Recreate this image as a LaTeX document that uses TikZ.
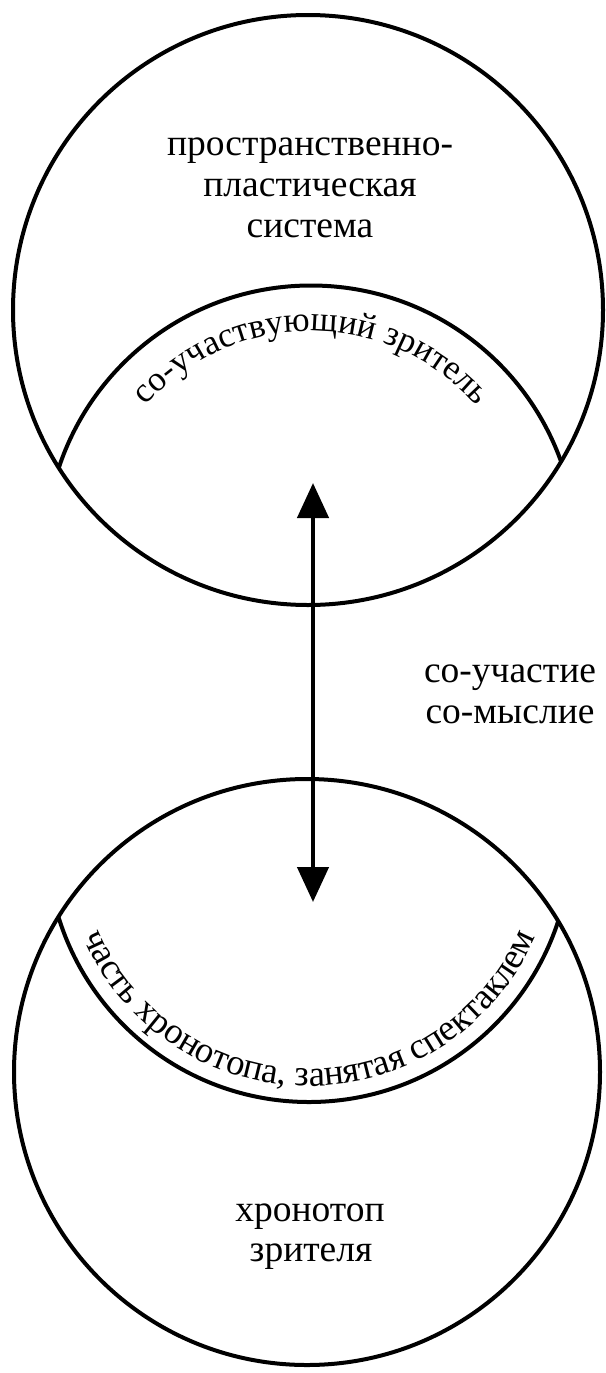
\documentclass[tikz,border=0pt]{standalone}
\usepackage{fontspec}
\setmainfont{Liberation Serif}
\usetikzlibrary{arrows.meta,decorations.text}
\newcommand{\lblfont}{\fontsize{37.5}{41}\selectfont}
\newcommand{\arcfont}{\fontsize{35}{40}\selectfont}
\newcommand{\arcfontb}{\fontsize{36.5}{40}\selectfont}
\begin{document}
\begin{tikzpicture}[x=1pt,y=1pt,
  outline/.style={draw, line width=4pt},
  lbl/.style={font=\lblfont, inner sep=0pt, anchor=base},
  >={Triangle[width=31pt,length=35pt]}]
\useasboundingbox (0,0) rectangle (605,-1373);
% outer circles
\node[circle, outline, minimum size=590pt, inner sep=0pt] (top) at (308,-310) {};
\node[circle, outline, minimum size=586pt, inner sep=0pt] (bot) at (307,-1072) {};
% inner arcs
\begin{scope}
  \clip (308,-310) circle[radius=295];
  \draw[line width=4pt] (311,-551) circle[radius=265.5];
\end{scope}
\begin{scope}
  \clip (307,-1072) circle[radius=293];
  \draw[line width=4pt] (309,-840) circle[radius=262];
\end{scope}
% curved texts
\path[decorate, decoration={text along path, text align=center,
  text={|\arcfont|со-участвующий зритель}}]
  (311,-551) ++(155:220) arc[start angle=155, end angle=25, radius=220];
\path[decorate, decoration={text along path, text align=center,
  text={|\arcfontb|часть хронотопа, занятая спектаклем}}]
  (309,-840) ++(198:246) arc[start angle=198, end angle=342, radius=246];
% labels
\node[lbl] (p1) at (310,-155) {пространственно-};
\node[lbl] (p2) at (310,-196) {пластическая};
\node[lbl] (p3) at (310,-237) {система};
\node[lbl] (s1) at (510,-682) {со-участие};
\node[lbl] (s2) at (510,-723) {со-мыслие};
\node[lbl] (h1) at (310,-1221) {хронотоп};
\node[lbl] (h2) at (311,-1261) {зрителя};
% arrow
\coordinate (atop) at (313,-483);
\coordinate (abot) at (313,-902);
\draw[line width=4.5pt, <->] (atop) -- (abot);
\end{tikzpicture}
\end{document}
